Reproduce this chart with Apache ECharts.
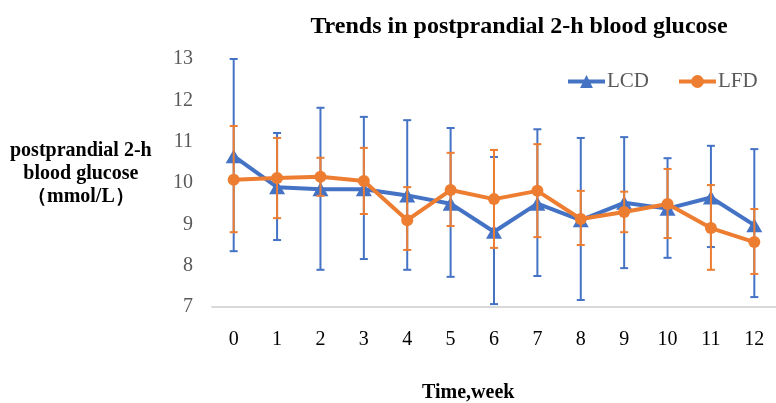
<!DOCTYPE html>
<html>
<head>
<meta charset="utf-8">
<script src="https://cdn.jsdelivr.net/npm/echarts@6/dist/echarts.min.js"></script>
<style>html,body{margin:0;padding:0;background:#fff;}#c{width:776px;height:403px;}</style>
</head>
<body>
<div id="c"></div>
<script>
var weeks = ['0','1','2','3','4','5','6','7','8','9','10','11','12'];
var lcdMean = [10.65, 9.9, 9.85, 9.85, 9.7, 9.5, 8.82, 9.5, 9.1, 9.52, 9.38, 9.65, 8.98];
var lcdHigh = [13.0, 11.21, 11.82, 11.6, 11.52, 11.33, 10.63, 11.3, 11.09, 11.11, 10.6, 10.9, 10.82];
var lcdLow  = [8.35, 8.62, 7.9, 8.16, 7.9, 7.73, 7.07, 7.75, 7.17, 7.94, 8.19, 8.45, 7.24];
var lfdMean = [10.08, 10.12, 10.15, 10.05, 9.1, 9.83, 9.61, 9.81, 9.13, 9.3, 9.49, 8.91, 8.57];
var lfdHigh = [11.38, 11.09, 10.61, 10.85, 9.9, 10.73, 10.8, 10.94, 9.81, 9.79, 10.34, 9.95, 9.37];
var lfdLow  = [8.81, 9.15, 9.69, 9.25, 8.38, 8.96, 8.43, 8.69, 8.5, 8.81, 8.67, 7.9, 7.8];
var yTicks = [7, 8, 9, 10, 11, 12, 13];

var BLUE = '#4472C4', ORANGE = '#ED7D31';
var SERIF = '"Liberation Serif","Times New Roman",serif';

function errData(low, high) {
  return weeks.map(function (w, i) { return [i, low[i], high[i]]; });
}
function errSeries(name, color, low, high, z) {
  return {
    type: 'custom', name: name + ' err', z: z, silent: true,
    data: errData(low, high),
    encode: { x: 0, y: [1, 2] },
    renderItem: function (params, api) {
      var lo = api.coord([api.value(0), api.value(1)]);
      var hi = api.coord([api.value(0), api.value(2)]);
      var hw = 4;
      var st = { stroke: color, lineWidth: 2 };
      return { type: 'group', children: [
        { type: 'line', shape: { x1: lo[0], y1: lo[1], x2: hi[0], y2: hi[1] }, style: st },
        { type: 'line', shape: { x1: lo[0]-hw, y1: lo[1], x2: lo[0]+hw, y2: lo[1] }, style: st },
        { type: 'line', shape: { x1: hi[0]-hw, y1: hi[1], x2: hi[0]+hw, y2: hi[1] }, style: st }
      ]};
    }
  };
}

var chart = echarts.init(document.getElementById('c'));
chart.setOption({
  animation: false,
  backgroundColor: '#fff',
  title: {
    text: 'Trends in postprandial 2-h blood glucose',
    left: 514, top: 10, textAlign: 'center',
    textStyle: { fontFamily: SERIF, fontWeight: 'bold', fontSize: 24, color: '#000' }
  },
  legend: {
    data: ['LCD', 'LFD'],
    left: 561, top: 66,
    itemWidth: 37, itemHeight: 16, itemGap: 28,
    lineStyle: { width: 4 },
    textStyle: { fontFamily: SERIF, fontSize: 21, color: '#595959', padding: [0,0,0,-3] }
  },
  grid: { left: 212, right: -13, top: 59, bottom: 96 },
  xAxis: {
    type: 'category', data: weeks, boundaryGap: true,
    axisLine: { show: true, lineStyle: { color: '#D9D9D9', width: 2 } },
    axisTick: { show: false },
    axisLabel: { fontFamily: SERIF, fontSize: 20, color: '#000', margin: 23 }
  },
  yAxis: {
    type: 'value', min: yTicks[0], max: yTicks[yTicks.length-1], interval: 1,
    axisLine: { show: false }, axisTick: { show: false }, splitLine: { show: false },
    axisLabel: { fontFamily: SERIF, fontSize: 20, color: '#595959', margin: 19 }
  },
  graphic: [
    { type: 'text', left: 10, top: 139, style: {
      text: 'postprandial 2-h\nblood glucose\n（mmol/L）', textAlign: 'center', x: 75,
      font: 'bold 20px ' + SERIF, fill: '#000', lineHeight: 23 } },
    { type: 'text', left: 422, top: 383, style: {
      text: 'Time,week', font: 'bold 20px ' + SERIF, fill: '#000' } }
  ],
  series: [
    errSeries('LCD', BLUE, lcdLow, lcdHigh, 2),
    { name: 'LCD', type: 'line', data: lcdMean, z: 3, symbol: 'triangle', symbolSize: [16, 14],
      lineStyle: { color: BLUE, width: 4 }, itemStyle: { color: BLUE } },
    { name: 'LFD', type: 'line', data: lfdMean, z: 4, symbol: 'circle', symbolSize: 12,
      lineStyle: { color: ORANGE, width: 4 }, itemStyle: { color: ORANGE } },
    errSeries('LFD', ORANGE, lfdLow, lfdHigh, 5)
  ]
});
</script>
</body>
</html>
